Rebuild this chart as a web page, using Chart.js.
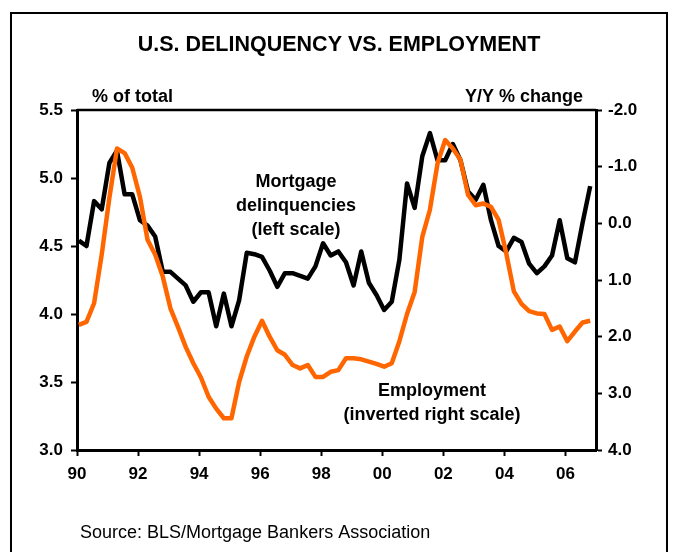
<!DOCTYPE html>
<html>
<head>
<meta charset="utf-8">
<script src="https://cdn.jsdelivr.net/npm/chart.js@4.4.0/dist/chart.umd.min.js"></script>
<style>
    html, body { margin: 0; padding: 0; background: #fff; }
    #wrap { width: 678px; height: 552px; position: relative; }
</style>
</head>
<body>
<div id="wrap"><canvas id="myChart" width="678" height="552"></canvas></div>
<script>
// Quarterly data, 1990Q1 .. 2006Q4
const firstYear = 1990;
const lastYear = 2006;

// Mortgage delinquencies, % of total (left scale)
const delinquency = [
    4.54, 4.50, 4.83, 4.77, 5.11, 5.20, 4.88, 4.88,
    4.69, 4.65, 4.57, 4.31, 4.31, 4.26, 4.21, 4.09,
    4.16, 4.16, 3.91, 4.15, 3.91, 4.10, 4.45, 4.44,
    4.42, 4.32, 4.20, 4.30, 4.30, 4.28, 4.26, 4.35,
    4.52, 4.43, 4.46, 4.38, 4.21, 4.46, 4.23, 4.14,
    4.03, 4.09, 4.40, 4.96, 4.78, 5.16, 5.33, 5.13,
    5.13, 5.25, 5.13, 4.90, 4.84, 4.95, 4.69, 4.50,
    4.46, 4.56, 4.53, 4.37, 4.30, 4.35, 4.43, 4.69,
    4.41, 4.38, 4.67, 4.94
];

// Employment, Y/Y % change (inverted right scale)
const employment = [
    1.79, 1.74, 1.41, 0.55, -0.45, -1.32, -1.24, -0.98,
    -0.47, 0.29, 0.55, 0.94, 1.50, 1.83, 2.18, 2.47,
    2.72, 3.06, 3.27, 3.44, 3.44, 2.80, 2.35, 2.00,
    1.72, 2.00, 2.24, 2.32, 2.50, 2.56, 2.50, 2.71,
    2.71, 2.62, 2.59, 2.38, 2.38, 2.40, 2.44, 2.48,
    2.53, 2.47, 2.08, 1.60, 1.21, 0.24, -0.24, -1.06,
    -1.47, -1.32, -1.12, -0.50, -0.32, -0.35, -0.29, -0.06,
    0.53, 1.20, 1.42, 1.55, 1.59, 1.60, 1.88, 1.82,
    2.08, 1.91, 1.75, 1.72
];

const leftTicks = [3.0, 3.5, 4.0, 4.5, 5.0, 5.5];
const rightTicks = [-2, -1, 0, 1, 2, 3, 4];
const yearTicks = [1990, 1992, 1994, 1996, 1998, 2000, 2002, 2004, 2006];

// quarter labels -> position on the year axis
const quarters = [];
for (let y = firstYear; y <= lastYear; y++) {
    for (let q = 1; q <= 4; q++) quarters.push(y + 'Q' + q);
}
const quarterToX = (label) => {
    const [y, q] = label.split('Q').map(Number);
    return y + (q - 1) / 4 + 0.06;
};

const FONT = '"Liberation Sans", Arial, sans-serif';
const tickFont = { family: FONT, size: 17, weight: 'bold' };

// frame, titles and notes around the plot
const decorations = {
    id: 'decorations',
    beforeDraw(chart) {
        const ctx = chart.ctx;
        ctx.save();
        ctx.fillStyle = '#fff';
        ctx.fillRect(0, 0, chart.width, chart.height);
        ctx.restore();
    },
    afterDraw(chart) {
        const ctx = chart.ctx;
        const area = chart.chartArea;
        ctx.save();
        ctx.strokeStyle = '#000';
        ctx.lineWidth = 2;
        ctx.strokeRect(11, 13, 656, 560);

        // top edge of the plot box
        ctx.lineWidth = 2.5;
        ctx.beginPath();
        ctx.moveTo(area.left, area.top);
        ctx.lineTo(area.right, area.top);
        ctx.stroke();

        ctx.fillStyle = '#000';
        ctx.textBaseline = 'middle';

        ctx.font = 'bold 21.5px ' + FONT;
        ctx.textAlign = 'center';
        ctx.fillText('U.S. DELINQUENCY VS. EMPLOYMENT', 339, 45);

        ctx.font = 'bold 18px ' + FONT;
        ctx.textAlign = 'left';
        ctx.fillText('% of total', 92, 97);
        ctx.textAlign = 'right';
        ctx.fillText('Y/Y % change', 583, 97);

        ctx.textAlign = 'center';
        ctx.fillText('Mortgage', 296, 182);
        ctx.fillText('delinquencies', 296, 206);
        ctx.fillText('(left scale)', 296, 230);

        ctx.fillText('Employment', 432, 391);
        ctx.fillText('(inverted right scale)', 432, 415);

        ctx.font = '18px ' + FONT;
        ctx.textAlign = 'left';
        ctx.fillText('Source: BLS/Mortgage Bankers Association', 80, 533);
        ctx.restore();
    }
};

const ctx = document.getElementById('myChart').getContext('2d');

const chart = new Chart(ctx, {
    type: 'line',
    data: {
        datasets: [
            {
                label: 'Employment (inverted right scale)',
                data: employment.map((v, i) => ({ x: quarterToX(quarters[i]), y: v })),
                yAxisID: 'yRight',
                borderColor: '#FF6600',
                borderWidth: 4.5,
                borderJoinStyle: 'round',
                pointRadius: 0,
                tension: 0
            },
            {
                label: 'Mortgage delinquencies (left scale)',
                data: delinquency.map((v, i) => ({ x: quarterToX(quarters[i]), y: v })),
                yAxisID: 'yLeft',
                borderColor: '#000000',
                borderWidth: 4.5,
                borderJoinStyle: 'round',
                pointRadius: 0,
                tension: 0
            }
        ]
    },
    options: {
        responsive: false,
        animation: false,
        layout: { padding: { top: 110, left: 0, right: 0, bottom: 0 } },
        plugins: {
            legend: { display: false },
            title: { display: false },
            tooltip: { enabled: false }
        },
        scales: {
            x: {
                type: 'linear',
                min: 1990,
                max: 2007,
                afterBuildTicks: (s) => { s.ticks = yearTicks.map(v => ({ value: v })); },
                afterFit: (s) => { s.height = 102; },
                ticks: {
                    callback: (v) => String(v).slice(2),
                    font: tickFont,
                    color: '#000',
                    padding: 8,
                    maxRotation: 0,
                    autoSkip: false
                },
                grid: { drawOnChartArea: false, drawTicks: true, tickLength: 6, tickWidth: 2, tickColor: '#000' },
                border: { display: true, color: '#000', width: 3 }
            },
            yLeft: {
                type: 'linear',
                position: 'left',
                min: 3,
                max: 5.5,
                afterBuildTicks: (s) => { s.ticks = leftTicks.map(v => ({ value: v })); },
                afterFit: (s) => { s.width = 77; },
                ticks: {
                    callback: (v) => v.toFixed(1),
                    font: tickFont,
                    color: '#000',
                    padding: 8
                },
                grid: { drawOnChartArea: false, drawTicks: true, tickLength: 6, tickWidth: 2, tickColor: '#000' },
                border: { display: true, color: '#000', width: 3 }
            },
            yRight: {
                type: 'linear',
                position: 'right',
                reverse: true,
                min: -2,
                max: 4,
                afterBuildTicks: (s) => { s.ticks = rightTicks.map(v => ({ value: v })); },
                afterFit: (s) => { s.width = 82; },
                ticks: {
                    callback: (v) => v.toFixed(1),
                    font: tickFont,
                    color: '#000',
                    padding: 6
                },
                grid: { drawOnChartArea: false, drawTicks: true, tickLength: 6, tickWidth: 2, tickColor: '#000' },
                border: { display: true, color: '#000', width: 3 }
            }
        }
    },
    plugins: [decorations]
});
</script>
</body>
</html>
